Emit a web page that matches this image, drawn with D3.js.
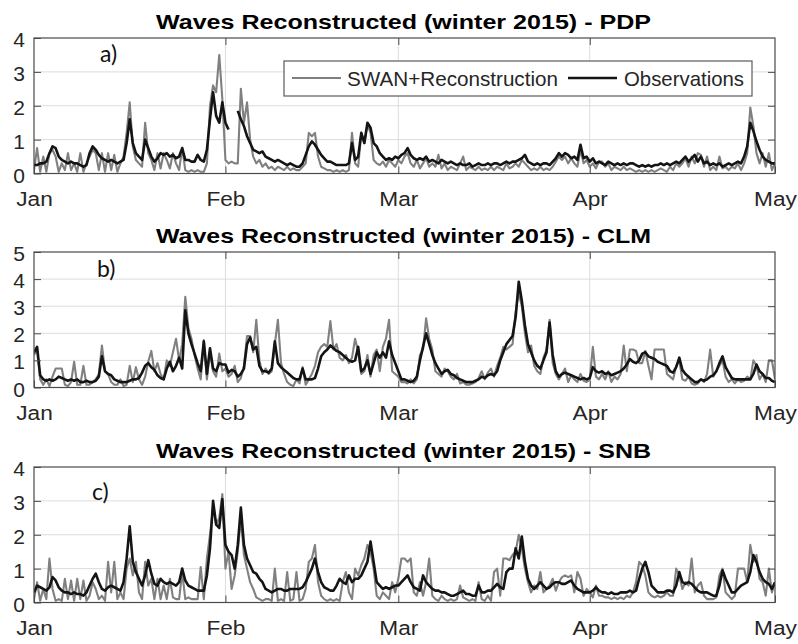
<!DOCTYPE html>
<html>
<head>
<meta charset="utf-8">
<script src="https://cdn.jsdelivr.net/npm/d3@7"></script>
<style>
  html, body { margin: 0; padding: 0; background: #fff; }
  svg { display: block; }
</style>
</head>
<body>
<svg id="chart" width="798" height="644"></svg>
<script>
// Significant wave height, Jan 1 - May 1 2015, one value every 12 hours (241 values).
const obsA = [
  0.25,0.25,0.3,0.3,0.35,0.6,0.8,0.75,0.5,0.4,
  0.35,0.3,0.35,0.3,0.3,0.25,0.2,0.25,0.6,0.8,
  0.7,0.55,0.45,0.4,0.35,0.4,0.35,0.3,0.35,0.4,
  0.9,1.6,0.9,0.6,0.5,0.4,1.0,0.75,0.5,0.35,
  0.45,0.6,0.55,0.6,0.5,0.55,0.45,0.5,0.75,0.4,
  0.4,0.35,0.35,0.55,0.4,0.35,0.7,1.6,2.4,1.7,
  1.5,2.1,1.5,1.3,null,null,1.85,1.6,1.4,1.1,
  0.9,0.7,0.65,0.6,0.65,0.5,0.45,0.4,0.35,0.4,
  0.35,0.3,0.25,0.3,0.25,0.2,0.2,0.3,0.55,0.8,
  0.95,0.85,0.7,0.55,0.45,0.35,0.35,0.3,0.25,0.25,
  0.25,0.25,0.3,0.9,0.4,0.5,1.2,0.9,1.5,1.35,
  0.9,0.8,0.6,0.5,0.4,0.45,0.4,0.5,0.45,0.55,
  0.6,0.75,0.55,0.45,0.4,0.45,0.4,0.5,0.35,0.4,
  0.35,0.3,0.4,0.35,0.3,0.35,0.3,0.25,0.3,0.25,
  0.25,0.3,0.2,0.25,0.3,0.25,0.25,0.3,0.25,0.3,
  0.3,0.25,0.3,0.35,0.3,0.35,0.35,0.4,0.45,0.55,
  0.35,0.3,0.25,0.3,0.25,0.3,0.3,0.25,0.35,0.45,
  0.6,0.5,0.6,0.55,0.45,0.5,0.4,0.85,0.45,0.5,
  0.35,0.45,0.3,0.35,0.3,0.25,0.35,0.3,0.25,0.3,
  0.25,0.3,0.25,0.3,0.3,0.25,0.2,0.25,0.2,0.25,
  0.2,0.25,0.25,0.3,0.25,0.3,0.25,0.3,0.35,0.3,
  0.4,0.5,0.35,0.45,0.55,0.35,0.5,0.3,0.35,0.25,
  0.3,0.25,0.3,0.2,0.25,0.3,0.25,0.3,0.35,0.3,
  0.5,0.8,1.5,1.25,0.95,0.7,0.5,0.4,0.35,0.3,
  0.3
];
const swanA = [
  0.1,0.75,0.05,0.5,0.05,0.6,0.7,0.5,0.05,0.3,
  0.1,0.6,0.1,0.3,0.05,0.6,0.05,0.3,0.5,0.7,
  0.6,0.1,0.6,0.05,0.6,0.1,0.55,0.05,0.3,0.5,
  1.2,2.1,0.8,0.4,0.3,0.2,1.5,0.6,0.4,0.1,
  0.6,0.15,0.6,0.4,0.15,0.6,0.3,0.1,0.75,0.1,
  0.05,0.1,0.05,0.1,0.05,0.05,0.3,2.0,2.6,2.4,
  3.5,2.2,0.4,0.3,0.35,0.3,0.3,2.5,1.5,2.1,
  1.0,0.5,0.3,0.4,0.2,0.3,0.15,0.2,0.1,0.2,
  0.15,0.1,0.2,0.1,0.15,0.1,0.1,0.2,0.3,1.2,
  1.1,1.2,0.5,0.2,0.15,0.1,0.1,0.05,0.1,0.05,
  0.1,0.05,0.1,1.2,0.3,0.2,1.2,0.9,1.45,1.2,
  0.4,0.3,0.25,0.35,0.2,0.4,0.3,0.2,0.4,0.3,
  0.5,0.6,0.3,0.2,0.4,0.15,0.3,0.45,0.2,0.3,
  0.2,0.55,0.15,0.3,0.1,0.2,0.15,0.1,0.3,0.5,
  0.1,0.2,0.15,0.1,0.2,0.1,0.15,0.1,0.2,0.1,
  0.2,0.15,0.1,0.3,0.15,0.2,0.3,0.2,0.4,0.3,
  0.2,0.1,0.15,0.1,0.2,0.1,0.15,0.1,0.2,0.35,
  0.5,0.4,0.5,0.3,0.45,0.3,0.2,0.7,0.3,0.4,
  0.2,0.3,0.15,0.35,0.35,0.2,0.3,0.1,0.2,0.15,
  0.1,0.2,0.1,0.15,0.1,0.05,0.1,0.05,0.1,0.05,
  0.1,0.05,0.1,0.15,0.1,0.05,0.2,0.1,0.3,0.2,
  0.3,0.45,0.2,0.5,0.3,0.6,0.55,0.2,0.5,0.1,
  0.2,0.1,0.5,0.15,0.2,0.1,0.2,0.15,0.3,0.1,
  0.3,0.6,1.95,1.4,0.6,0.3,0.6,0.2,0.6,0.1,
  0.3
];
const obsB = [
  1.3,1.5,0.45,0.3,0.25,0.3,0.25,0.3,0.4,0.35,
  0.3,0.25,0.3,0.25,0.3,0.2,0.2,0.25,0.2,0.2,
  0.25,0.4,1.15,0.6,0.5,0.45,0.3,0.25,0.2,0.2,
  0.2,0.25,0.3,0.3,0.35,0.55,0.8,0.9,0.75,0.65,
  0.45,0.35,0.3,0.7,0.95,0.6,0.8,1.1,0.7,2.85,
  2.0,1.6,1.25,0.9,0.6,1.7,0.5,1.45,0.7,0.6,
  0.9,0.85,0.85,0.55,0.65,0.6,0.4,0.5,0.7,1.6,
  1.85,1.4,1.5,0.8,0.6,0.6,0.55,0.7,1.7,0.9,
  0.75,0.65,0.55,0.45,0.35,0.3,0.3,0.7,0.3,0.3,
  0.3,0.35,0.7,1.15,1.3,1.4,1.55,1.45,1.35,1.3,
  1.2,1.1,1.0,0.95,1.0,1.5,0.6,0.7,1.0,0.5,
  0.9,1.3,1.1,1.3,1.1,1.7,1.2,0.9,0.6,0.3,
  0.3,0.25,0.2,0.25,0.4,1.0,1.5,2.0,1.6,1.2,
  0.9,0.7,0.5,0.6,0.65,0.5,0.45,0.35,0.3,0.25,
  0.2,0.2,0.2,0.25,0.3,0.4,0.35,0.45,0.5,0.45,
  0.6,1.0,1.3,1.6,1.75,1.9,2.6,3.9,3.2,2.3,
  1.6,1.3,1.0,0.8,0.7,1.0,1.3,2.4,1.2,0.6,
  0.4,0.5,0.55,0.5,0.45,0.4,0.35,0.3,0.35,0.3,
  0.35,0.75,0.6,0.55,0.6,0.5,0.55,0.45,0.5,0.55,
  0.6,0.7,0.85,1.05,0.95,0.9,1.0,1.25,1.3,1.15,
  1.1,1.05,0.95,0.9,0.85,0.8,0.6,0.55,0.75,1.1,
  0.65,0.5,0.4,0.3,0.2,0.2,0.3,0.25,0.3,0.4,
  0.45,0.6,0.9,1.15,0.75,0.55,0.35,0.3,0.3,0.3,
  0.3,0.3,0.3,0.5,0.85,0.6,0.5,0.35,0.35,0.25,
  0.2
];
const swanB = [
  1.2,1.4,0.3,0.1,0.3,0.05,0.4,0.7,0.7,0.7,
  0.1,0.05,0.2,0.95,0.1,0.1,0.8,0.1,0.1,0.2,
  0.3,0.5,1.55,0.6,0.5,0.2,0.1,0.1,0.3,0.05,
  0.1,0.8,0.2,0.75,0.3,0.1,0.4,0.95,1.35,0.6,
  0.9,0.5,0.3,1.0,0.8,1.3,1.8,1.0,1.6,3.35,
  2.2,1.8,1.2,0.7,0.3,1.75,0.3,1.3,0.6,0.4,
  1.25,0.6,0.7,0.4,0.5,0.8,0.2,0.35,0.8,1.9,
  1.9,1.3,2.5,1.0,0.5,0.7,0.5,0.6,1.6,2.5,
  0.9,0.5,0.2,0.1,0.05,0.3,0.15,0.75,0.1,0.3,
  0.5,0.8,1.3,1.5,1.6,1.5,2.45,1.4,1.6,1.1,
  1.0,1.2,0.9,1.1,1.8,1.3,0.5,0.6,1.2,0.4,
  1.2,1.4,0.6,1.5,1.8,2.5,0.6,0.5,0.4,0.2,
  0.2,0.15,0.3,0.15,0.3,1.2,1.4,2.55,1.8,1.4,
  0.6,0.5,0.4,0.7,0.6,0.4,0.3,0.5,0.15,0.2,
  0.1,0.1,0.15,0.2,0.35,0.6,0.3,0.55,0.7,0.4,
  0.8,1.1,1.5,1.4,1.5,1.6,2.8,3.5,3.0,2.0,
  1.3,1.55,0.8,0.6,0.5,1.1,1.4,2.5,0.9,0.5,
  0.3,0.5,0.7,0.2,0.45,0.3,0.2,0.5,0.25,0.2,
  0.3,1.5,0.4,0.3,0.5,0.3,0.6,0.2,0.4,0.3,
  0.5,1.55,0.6,1.4,1.4,1.35,0.9,0.9,1.35,0.8,
  0.3,1.4,1.4,1.4,1.4,0.5,0.4,0.3,0.8,1.0,
  0.3,0.25,0.4,0.15,0.1,0.15,0.3,0.2,0.5,1.4,
  0.4,0.6,0.8,1.0,0.4,0.2,0.3,0.15,0.3,0.2,
  0.25,0.4,0.3,1.0,0.8,0.3,0.5,0.2,1.0,1.0,
  0.3
];
const obsC = [
  0.3,0.5,0.45,0.4,0.35,0.45,0.75,0.65,0.45,0.35,
  0.3,0.3,0.25,0.3,0.25,0.25,0.2,0.3,0.5,0.7,
  0.85,0.6,0.4,0.35,0.45,0.5,0.45,0.4,0.35,0.6,
  1.3,2.25,1.2,0.9,0.7,0.5,0.8,1.25,0.85,0.55,
  0.5,0.7,0.6,0.55,0.6,0.55,0.5,0.6,1.0,0.65,
  0.5,0.45,0.4,0.35,0.35,0.35,0.8,1.6,3.0,2.3,
  2.2,3.05,1.7,1.5,1.4,1.0,1.7,2.8,1.7,1.3,
  1.1,0.9,0.85,0.7,0.6,0.4,0.35,0.3,0.35,0.4,
  0.4,0.35,0.35,0.4,0.4,0.4,0.4,0.45,0.6,0.8,
  1.0,1.3,0.9,0.6,0.45,0.4,0.35,0.35,0.5,0.7,
  0.6,0.55,0.8,0.6,0.7,0.7,0.8,1.0,1.2,1.8,
  1.2,0.6,0.5,0.4,0.45,0.4,0.45,0.5,0.5,0.6,
  0.7,0.8,0.6,0.45,0.4,0.35,0.8,0.6,0.5,0.4,
  0.35,0.35,0.3,0.3,0.25,0.2,0.2,0.25,0.3,0.35,
  0.25,0.25,0.2,0.2,0.5,0.3,0.3,0.35,0.35,0.45,
  0.55,0.45,0.4,0.9,1.0,1.0,1.6,1.3,1.95,1.2,
  0.7,0.5,0.4,0.5,0.6,0.5,0.4,0.45,0.55,0.6,
  0.6,0.55,0.55,0.6,0.65,0.5,0.4,0.35,0.3,0.3,
  0.3,0.35,0.45,0.35,0.3,0.3,0.25,0.3,0.25,0.25,
  0.3,0.3,0.3,0.35,0.3,0.35,0.7,1.0,1.2,0.9,
  0.5,0.4,0.3,0.3,0.3,0.35,0.35,0.3,0.5,0.9,
  0.6,0.55,0.6,0.55,0.45,0.35,0.3,0.3,0.3,0.25,
  0.2,0.2,0.5,0.95,0.7,0.5,0.3,0.3,0.4,0.5,
  0.55,0.6,0.9,1.4,1.2,0.9,0.7,0.6,0.55,0.4,
  0.6
];
const swanC = [
  0.1,0.6,0.05,0.4,0.1,1.3,0.4,0.05,0.1,0.05,
  0.7,0.1,0.65,0.05,0.7,0.1,0.65,0.05,0.2,0.6,
  0.4,0.1,0.2,0.05,1.2,0.3,1.2,0.1,0.3,0.1,
  1.0,1.3,0.8,1.2,0.3,0.1,1.2,0.5,0.7,0.1,
  0.7,0.1,0.5,0.1,0.7,0.15,0.1,0.1,0.9,0.1,
  0.15,0.1,0.1,0.1,1.05,0.1,1.3,2.0,2.8,2.3,
  2.5,3.2,1.0,1.5,0.4,0.8,1.5,2.5,1.4,1.0,
  0.6,0.4,0.15,0.1,0.05,0.1,0.1,0.05,1.0,0.05,
  0.1,0.05,0.9,0.05,0.1,0.9,0.05,0.1,0.4,1.2,
  1.3,1.7,0.6,0.2,0.1,0.05,0.1,0.05,0.1,0.05,
  0.6,0.9,0.3,0.1,1.0,0.8,1.1,1.3,1.7,1.5,
  1.0,0.2,0.1,0.3,0.2,0.1,0.6,0.3,0.7,1.3,
  1.3,1.2,1.3,0.3,0.2,0.6,0.2,0.6,1.3,0.2,
  0.1,0.05,0.2,0.1,0.05,0.1,0.05,0.1,0.5,0.15,
  0.1,0.05,0.1,0.05,0.6,0.1,0.05,0.2,0.05,0.9,
  1.0,0.2,1.3,1.3,1.25,1.4,1.5,2.0,1.6,1.0,
  0.6,0.3,0.5,0.4,0.9,0.3,0.4,0.5,0.7,0.35,
  0.6,0.75,0.8,0.75,0.8,0.3,0.9,0.7,0.2,0.4,
  0.3,0.15,0.5,0.2,0.2,0.15,0.15,0.1,0.15,0.1,
  0.15,0.1,0.2,0.15,0.3,0.6,1.2,1.1,0.8,0.3,
  0.2,0.15,0.2,0.15,0.2,0.3,0.2,0.2,1.0,0.8,
  0.4,0.6,0.5,1.3,0.3,0.5,0.6,0.2,0.1,0.1,
  0.1,0.15,0.8,1.0,0.3,0.2,0.1,0.2,1.0,1.0,
  1.0,0.6,1.7,1.2,1.4,0.7,0.6,0.2,1.0,0.3,
  0.6
];

const stations = ["PDP", "CLM", "SNB"];
const panelLetters = ["a)", "b)", "c)"];
const yTicksA = [0, 1, 2, 3, 4];
const yTicksB = [0, 1, 2, 3, 4, 5];
const yTicksC = [0, 1, 2, 3, 4];
const seriesNames = ["SWAN+Reconstruction", "Observations"];
const monthLabels = ["Jan", "Feb", "Mar", "Apr", "May"];

const startMs = Date.UTC(2015, 0, 1);
const stepMs = 12 * 3600 * 1000;
const months = monthLabels.map((m, i) => new Date(Date.UTC(2015, i, 1)));
const toPoints = arr => arr.map((v, i) => ({ t: new Date(startMs + i * stepMs), v }));

const panels = [
  { station: stations[0], letter: panelLetters[0], obs: obsA, swan: swanA, ticks: yTicksA, top: 38,  letterPos: [100, 62] },
  { station: stations[1], letter: panelLetters[1], obs: obsB, swan: swanB, ticks: yTicksB, top: 252, letterPos: [97, 277] },
  { station: stations[2], letter: panelLetters[2], obs: obsC, swan: swanC, ticks: yTicksC, top: 467, letterPos: [92, 500] }
];

const svg = d3.select("#chart");
const left = 34, right = 775, plotH = 135.5;
const font = "'Liberation Sans', Arial, Helvetica, sans-serif";
const axisColor = "#4a4a4a";
const textColor = "#262626";
const swanColor = "#808080", obsColor = "#141414";
const swanWidth = 2.1, obsWidth = 2.6;

const x = d3.scaleUtc().domain([months[0], months[months.length - 1]]).range([left, right]);

panels.forEach((p, k) => {
  const top = p.top, bottom = top + plotH;
  const yMax = d3.max(p.ticks);
  const y = d3.scaleLinear().domain([0, yMax]).range([bottom, top]);
  const g = svg.append("g");

  const clipId = "clip" + k;
  svg.append("clipPath").attr("id", clipId)
    .append("rect").attr("x", left).attr("y", top).attr("width", right - left).attr("height", plotH);

  // grid
  g.append("g").selectAll("line").data(p.ticks.filter(t => t > 0 && t < yMax)).join("line")
    .attr("x1", left).attr("x2", right).attr("y1", d => y(d)).attr("y2", d => y(d))
    .attr("stroke", "#dcdcdc").attr("stroke-width", 1);
  g.append("g").selectAll("line").data(months.slice(1, -1)).join("line")
    .attr("x1", d => x(d)).attr("x2", d => x(d)).attr("y1", top).attr("y2", bottom)
    .attr("stroke", "#dcdcdc").attr("stroke-width", 1);

  // series: model first, observations on top
  const line = d3.line().defined(d => d.v !== null).x(d => x(d.t)).y(d => y(d.v));
  const lines = g.append("g").attr("clip-path", `url(#${clipId})`);
  lines.append("path").datum(toPoints(p.swan)).attr("d", line)
    .attr("fill", "none").attr("stroke", swanColor).attr("stroke-width", swanWidth).attr("stroke-linejoin", "round");
  lines.append("path").datum(toPoints(p.obs)).attr("d", line)
    .attr("fill", "none").attr("stroke", obsColor).attr("stroke-width", obsWidth).attr("stroke-linejoin", "round");

  // axes (ticks pointing inward)
  const yLeft = g.append("g").attr("transform", `translate(${left},0)`)
    .call(d3.axisLeft(y).tickValues(p.ticks).tickFormat(d3.format("d")).tickSizeInner(-7).tickSizeOuter(0).tickPadding(9));
  yLeft.selectAll("text").attr("dy", null).attr("y", 8.5)
    .style("font-family", font).style("font-size", "21px").attr("fill", textColor);
  g.append("g").attr("transform", `translate(${right},0)`)
    .call(d3.axisRight(y).tickValues(p.ticks.filter(t => t > 0 && t < yMax)).tickFormat("").tickSizeInner(-7).tickSizeOuter(0));
  const xBottom = g.append("g").attr("transform", `translate(0,${bottom})`)
    .call(d3.axisBottom(x).tickValues(months).tickFormat((d, i) => monthLabels[i]).tickSizeInner(-7).tickSizeOuter(0));
  xBottom.selectAll("text").attr("dy", null).attr("y", 33)
    .attr("transform", "scale(1.08,1)")
    .style("font-family", font).style("font-size", "21px").attr("fill", textColor);
  g.append("g").attr("transform", `translate(0,${top})`)
    .call(d3.axisTop(x).tickValues(months.slice(1, -1)).tickFormat("").tickSizeInner(-7).tickSizeOuter(0));

  g.selectAll(".domain").remove();
  g.selectAll(".tick line").attr("stroke", axisColor);

  // frame
  g.append("rect").attr("x", left).attr("y", top).attr("width", right - left).attr("height", plotH)
    .attr("fill", "none").attr("stroke", axisColor).attr("stroke-width", 1.2);

  // title
  g.append("text").attr("x", 403.5).attr("y", top - 9).attr("text-anchor", "middle")
    .attr("textLength", 495).attr("lengthAdjust", "spacingAndGlyphs")
    .style("font-family", font).style("font-size", "21px").style("font-weight", "bold").attr("fill", "#000")
    .text(`Waves Reconstructed (winter 2015) - ${p.station}`);

  // panel letter
  g.append("text").attr("x", p.letterPos[0]).attr("y", p.letterPos[1])
    .style("font-family", "Lato, 'Open Sans', sans-serif").style("font-size", "23px").attr("fill", "#111")
    .text(p.letter);

  // legend on the first panel only
  if (k === 0) {
    const lg = g.append("g");
    lg.append("rect").attr("x", 284).attr("y", 61).attr("width", 468).attr("height", 35)
      .attr("fill", "#fff").attr("stroke", "#5a5a5a").attr("stroke-width", 1.2);
    const entries = [
      { name: seriesNames[0], color: swanColor, w: swanWidth, x0: 292, x1: 341, tx: 347, tl: 211 },
      { name: seriesNames[1], color: obsColor, w: obsWidth, x0: 568, x1: 617, tx: 624, tl: 120 }
    ];
    entries.forEach(e => {
      lg.append("line").attr("x1", e.x0).attr("x2", e.x1).attr("y1", 78).attr("y2", 78)
        .attr("stroke", e.color).attr("stroke-width", e.w);
      lg.append("text").attr("x", e.tx).attr("y", 86)
        .attr("textLength", e.tl).attr("lengthAdjust", "spacingAndGlyphs")
        .style("font-family", font).style("font-size", "21px").attr("fill", textColor)
        .text(e.name);
    });
  }
});
</script>
</body>
</html>
